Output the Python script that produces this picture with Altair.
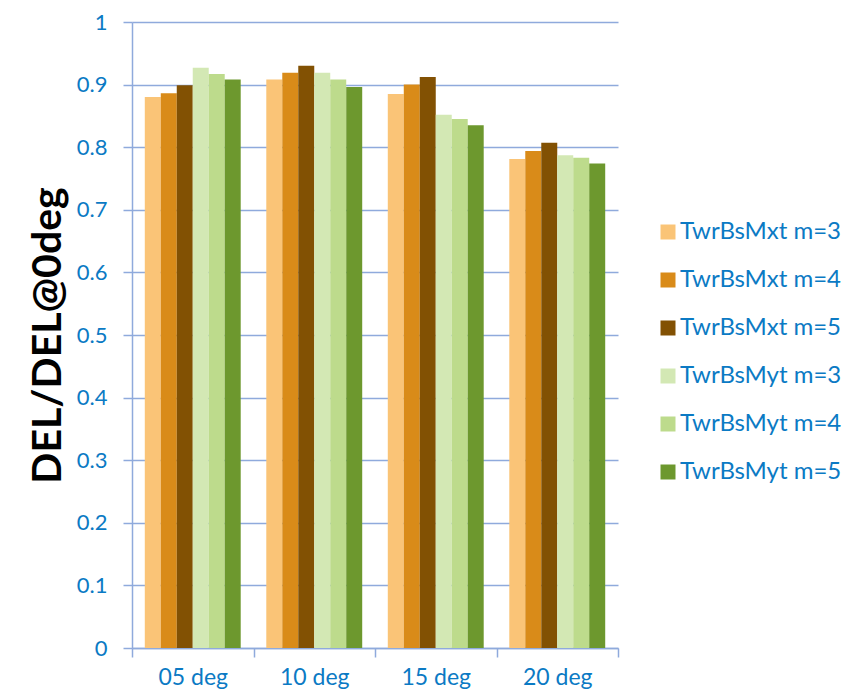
import altair as alt
import pandas as pd

categories = ["05 deg", "10 deg", "15 deg", "20 deg"]
series = ["TwrBsMxt m=3", "TwrBsMxt m=4", "TwrBsMxt m=5",
          "TwrBsMyt m=3", "TwrBsMyt m=4", "TwrBsMyt m=5"]
values = {
    "TwrBsMxt m=3": [0.880, 0.908, 0.885, 0.781],
    "TwrBsMxt m=4": [0.886, 0.919, 0.900, 0.794],
    "TwrBsMxt m=5": [0.899, 0.930, 0.912, 0.807],
    "TwrBsMyt m=3": [0.927, 0.919, 0.852, 0.787],
    "TwrBsMyt m=4": [0.917, 0.908, 0.845, 0.783],
    "TwrBsMyt m=5": [0.908, 0.896, 0.835, 0.774],
}
colors = ["#FAC477", "#D98B19", "#825103", "#D3E8B4", "#BDDB8C", "#6D982E"]
y_ticks = [0, 0.1, 0.2, 0.3, 0.4, 0.5, 0.6, 0.7, 0.8, 0.9, 1.0]

rows = []
for s in series:
    for c, v in zip(categories, values[s]):
        rows.append({"cat": c, "series": s, "value": v})
df = pd.DataFrame(rows)

BLUE = "#0B7AC4"
GRID = "#8FAADC"
FONT = "Lato"

chart = alt.Chart(df).mark_bar().encode(
    x=alt.X("cat:N", sort=categories, title=None,
            scale=alt.Scale(paddingInner=0, paddingOuter=0),
            axis=alt.Axis(labelAngle=0, tickBand="extent", tickSize=9,
                          labelPadding=9, labelFontSize=23, labelColor=BLUE,
                          labelFont=FONT, domainColor=GRID, tickColor=GRID,
                          domainWidth=1.5, tickWidth=1.5)),
    xOffset=alt.XOffset("series:N", sort=series,
                        scale=alt.Scale(paddingInner=0, paddingOuter=0.8)),
    y=alt.Y("value:Q", title="DEL/DEL@0deg",
            scale=alt.Scale(domain=[0, 1], nice=False),
            axis=alt.Axis(values=y_ticks, format=".1~f", tickSize=9,
                          labelPadding=16, labelFontSize=22, labelColor=BLUE,
                          labelFont=FONT, domainColor=GRID, tickColor=GRID,
                          gridColor=GRID, gridWidth=1.5, domainWidth=1.5,
                          tickWidth=1.5, titleFont=FONT, titleFontSize=41,
                          titleFontWeight="bold", titleColor="black",
                          titlePadding=7)),
    color=alt.Color("series:N", sort=series,
                    scale=alt.Scale(domain=series, range=colors),
                    legend=alt.Legend(title=None, orient="none", legendX=524,
                                      legendY=198, symbolType="square",
                                      symbolSize=225, symbolStrokeWidth=0,
                                      labelFontSize=24, labelColor=BLUE,
                                      labelFont=FONT, rowPadding=24,
                                      labelOffset=0, labelLimit=0)),
).properties(
    width=486, height=626,
    padding={"left": 124, "top": 14, "right": 228, "bottom": 60},
    autosize=alt.AutoSizeParams(type="none"),
).configure_view(stroke=None)

chart.save("out.html", embed_options={"renderer": "svg", "actions": False})
